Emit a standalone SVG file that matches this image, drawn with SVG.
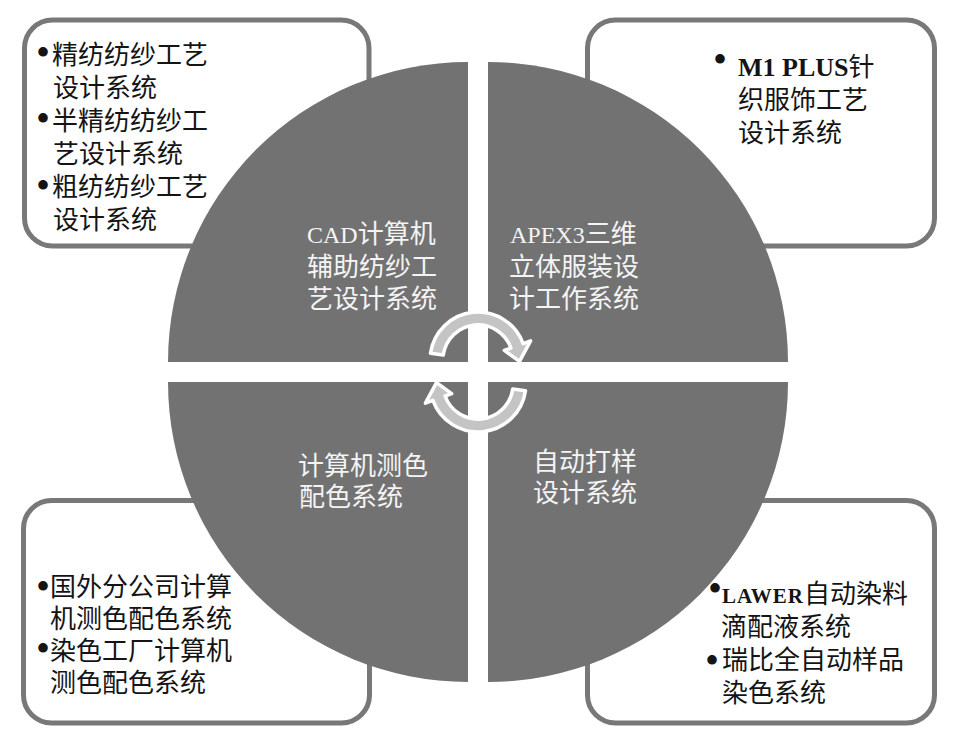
<svg xmlns="http://www.w3.org/2000/svg" xmlns:xlink="http://www.w3.org/1999/xlink" width="954" height="740" viewBox="0 0 954 740">
<style>
.box{fill:#ffffff;stroke:#787878;stroke-width:5}
.quad{fill:#727272}
.t{font-family:"Liberation Serif","Noto Sans CJK SC",serif;font-size:26px;fill:#141414}
.w{font-family:"Liberation Serif","Noto Sans CJK SC",serif;font-size:26px;fill:#f4f4f4}
.b{font-family:"Liberation Serif",serif;font-size:40px;fill:#141414;text-anchor:middle}
.lat{font-size:24px}
.arc{fill:#c4c4c4;stroke:#ffffff;stroke-width:3.5;stroke-linejoin:round}
</style>
<defs>
<path id="arc" d="M 430.5 353.3 A 48 48 0 0 1 523.1 343.6 L 530.6 340.8 L 519.5 361.4 L 504.3 350.4 L 510.9 348 A 35 35 0 0 0 443.3 355.1 Z"/>
</defs>
<rect width="954" height="740" fill="#ffffff"/>

<g id="box-tl">
<rect class="box" x="24.5" y="20" width="344.5" height="226" rx="28"/>
<text class="b" x="43" y="66">•</text>
<text class="t" x="52" y="64">精纺纺纱工艺</text>
<text class="t" x="53" y="97">设计系统</text>
<text class="b" x="43" y="132">•</text>
<text class="t" x="52" y="130">半精纺纺纱工</text>
<text class="t" x="53" y="163">艺设计系统</text>
<text class="b" x="43" y="199">•</text>
<text class="t" x="52" y="196">粗纺纺纱工艺</text>
<text class="t" x="53" y="229">设计系统</text>
</g>

<g id="box-tr">
<rect class="box" x="587.5" y="20" width="347" height="226" rx="28"/>
<text class="b" x="720" y="73">•</text>
<text class="t" x="738" y="76"><tspan font-weight="bold">M1 PLUS</tspan>针</text>
<text class="t" x="738" y="109">织服饰工艺</text>
<text class="t" x="738" y="142">设计系统</text>
</g>

<g id="box-bl">
<rect class="box" x="23.5" y="500.5" width="346" height="222.5" rx="28"/>
<text class="b" x="43" y="600">•</text>
<text class="t" x="50" y="596">国外分公司计算</text>
<text class="t" x="50" y="628">机测色配色系统</text>
<text class="b" x="43" y="662">•</text>
<text class="t" x="50" y="660">染色工厂计算机</text>
<text class="t" x="50" y="692">测色配色系统</text>
</g>

<g id="box-br">
<rect class="box" x="587.5" y="500.5" width="347" height="222.5" rx="28"/>
<text class="b" x="715" y="602">•</text>
<text class="t" x="722" y="603"><tspan font-weight="bold" font-size="21" letter-spacing="1">LAWER</tspan>自动染料</text>
<text class="t" x="721" y="636">滴配液系统</text>
<text class="b" x="712" y="674">•</text>
<text class="t" x="722" y="669">瑞比全自动样品</text>
<text class="t" x="722" y="702">染色系统</text>
</g>

<g id="quad-tl">
<path class="quad" d="M 468 362 L 168 362 A 300 300 0 0 1 468 62 Z"/>
<text class="w" x="307" y="243"><tspan class="lat">CAD</tspan>计算机</text>
<text class="w" x="307" y="276">辅助纺纱工</text>
<text class="w" x="307" y="308">艺设计系统</text>
</g>

<g id="quad-tr">
<path class="quad" d="M 488 362 L 488 62 A 300 300 0 0 1 788 362 Z"/>
<text class="w" x="510" y="243"><tspan class="lat">APEX3</tspan>三维</text>
<text class="w" x="509" y="276">立体服装设</text>
<text class="w" x="509" y="308">计工作系统</text>
</g>

<g id="quad-bl">
<path class="quad" d="M 468 382 L 468 682 A 300 300 0 0 1 168 382 Z"/>
<text class="w" x="298" y="475">计算机测色</text>
<text class="w" x="299" y="506">配色系统</text>
</g>

<g id="quad-br">
<path class="quad" d="M 488 382 L 788 382 A 300 300 0 0 1 488 682 Z"/>
<text class="w" x="533" y="471">自动打样</text>
<text class="w" x="533" y="502">设计系统</text>
</g>

<g id="connectors">
<use xlink:href="#arc" class="arc"/>
<use xlink:href="#arc" class="arc" transform="rotate(180 478 372)"/>
</g>
</svg>
